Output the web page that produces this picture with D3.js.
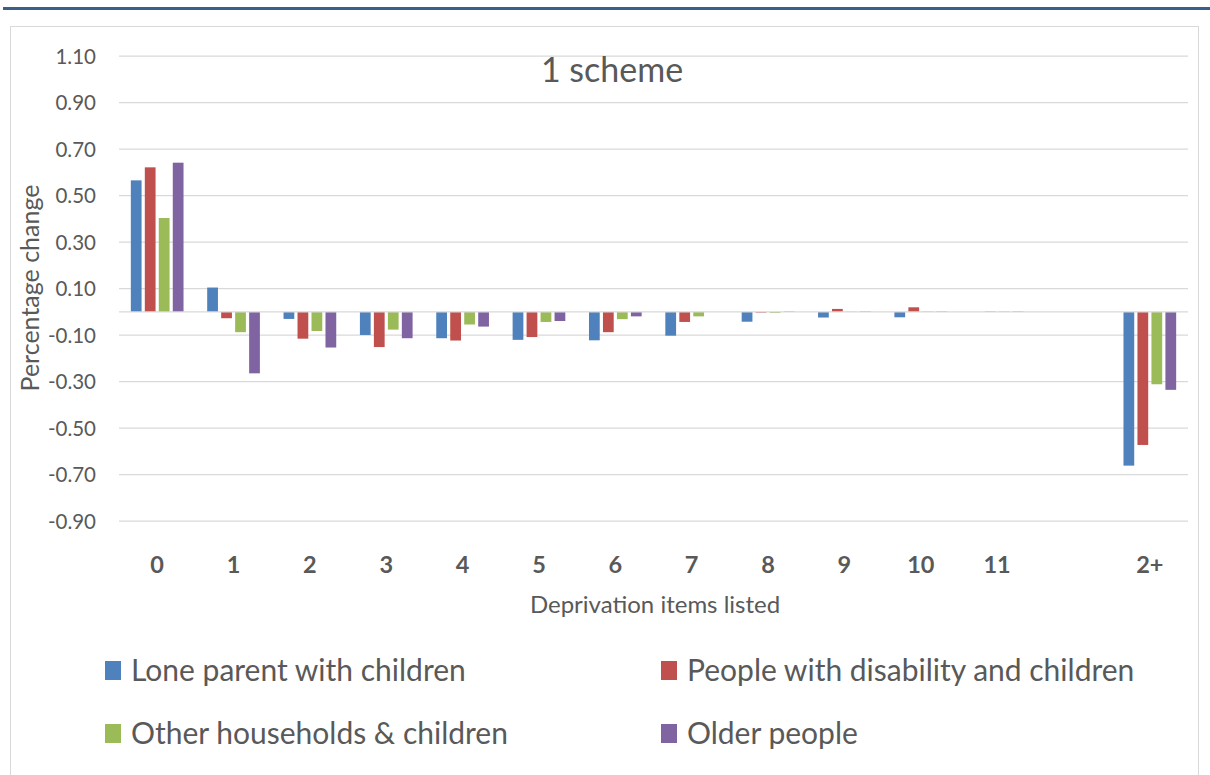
<!DOCTYPE html>
<html><head><meta charset="utf-8">
<script src="https://cdn.jsdelivr.net/npm/d3@7"></script>
<style>
body{margin:0;background:#fff;}
svg text{font-family:Lato,"Open Sans",sans-serif;fill:#595959;}
</style></head>
<body><svg id="c" width="1210" height="775"></svg>
<script>
const categories = ["0","1","2","3","4","5","6","7","8","9","10","11","","2+"];
const seriesNames = ["Lone parent with children","People with disability and children","Other households & children","Older people"];
const seriesColors = ["#4f81bd","#c0504d","#9bbb59","#8064a2"];
const lone      = [0.566, 0.105,-0.030,-0.099,-0.113,-0.120,-0.122,-0.102,-0.042,-0.024,-0.023, 0.000, null,-0.661];
const disability= [0.622,-0.027,-0.115,-0.151,-0.123,-0.108,-0.087,-0.043,-0.003, 0.013, 0.020, 0.002, null,-0.572];
const other     = [0.404,-0.087,-0.082,-0.076,-0.054,-0.043,-0.031,-0.019,-0.004, 0.001, 0.002, 0.002, null,-0.311];
const older     = [0.642,-0.264,-0.153,-0.113,-0.063,-0.039,-0.019, 0.000, 0.002, 0.002, 0.002, 0.002, null,-0.335];
const yTicks = [1.10,0.90,0.70,0.50,0.30,0.10,-0.10,-0.30,-0.50,-0.70,-0.90];
const series = [lone, disability, other, older];

const svg = d3.select("#c");
// top banner line
svg.append("rect").attr("x",3).attr("y",7).attr("width",1207).attr("height",3).attr("fill","#3a5f8a");
// chart frame
svg.append("rect").attr("x",10.5).attr("y",26.5).attr("width",1188).attr("height",760)
  .attr("fill","#fff").attr("stroke","#d9d9d9").attr("stroke-width",1);

const L=119, R=1188, T=56.2, B=521.2;
const y = d3.scaleLinear().domain([-0.9,1.1]).range([B,T]);
const x = d3.scaleBand().domain(d3.range(categories.length)).range([L,R]).paddingInner(0).paddingOuter(0);
const bw = x.bandwidth()/7.1;
const step = bw*1.3;

// gridlines
svg.append("g").selectAll("line").data(yTicks).join("line")
  .attr("x1",L).attr("x2",R).attr("y1",d=>y(d)).attr("y2",d=>y(d))
  .attr("stroke","#d9d9d9").attr("stroke-width",1.3);

// y axis labels
const yAxis = d3.axisLeft(y).tickValues(yTicks).tickFormat(d=>d.toFixed(2)).tickSize(0).tickPadding(0);
const ga = svg.append("g").attr("transform","translate(96,0)").call(yAxis);
ga.select(".domain").remove();
ga.selectAll("text").attr("font-size",20.5).attr("fill","#595959").style("font-family","Lato,'Open Sans',sans-serif").attr("dy","0.35em");

// bars
series.forEach((s,si)=>{
  svg.append("g").selectAll("rect").data(s.map((v,i)=>({v,i})).filter(d=>d.v!==null)).join("rect")
    .attr("x",d=>x(d.i)+x.bandwidth()/2 - (4*bw+3*0.3*bw)/2 + si*step)
    .attr("width",bw)
    .attr("y",d=>Math.min(y(d.v),y(0)))
    .attr("height",d=>Math.abs(y(d.v)-y(0)))
    .attr("fill",seriesColors[si]);
});

// zero axis line
svg.append("line").attr("x1",L).attr("x2",R).attr("y1",y(0)).attr("y2",y(0))
  .attr("stroke","#d9d9d9").attr("stroke-width",1.3);

// x labels
const xAxis = d3.axisBottom(x).tickFormat(i=>categories[i]).tickSize(0).tickPadding(0);
const gx = svg.append("g").attr("transform","translate(0,565)").call(xAxis);
gx.select(".domain").remove();
gx.selectAll("text").attr("font-size",23.5).attr("font-weight","bold").attr("fill","#595959")
  .style("font-family","Lato,'Open Sans',sans-serif").attr("dy","0.35em");

// titles
svg.append("text").attr("x",612).attr("y",82).attr("text-anchor","middle").attr("font-size",34).text("1 scheme");
svg.append("text").attr("x",655).attr("y",613).attr("text-anchor","middle").attr("font-size",24).text("Deprivation items listed");
svg.append("text").attr("transform","translate(39,288) rotate(-90)").attr("text-anchor","middle").attr("font-size",25).text("Percentage change");

// legend
const legPos = [[105,661],[661,661],[105,724],[661,724]];
seriesNames.forEach((n,i)=>{
  const [lx,ly]=legPos[i];
  svg.append("rect").attr("x",lx).attr("y",ly).attr("width",16).attr("height",19).attr("fill",seriesColors[i]);
  svg.append("text").attr("x",lx+26).attr("y",ly+20).attr("font-size",30).text(n);
});
</script></body></html>
